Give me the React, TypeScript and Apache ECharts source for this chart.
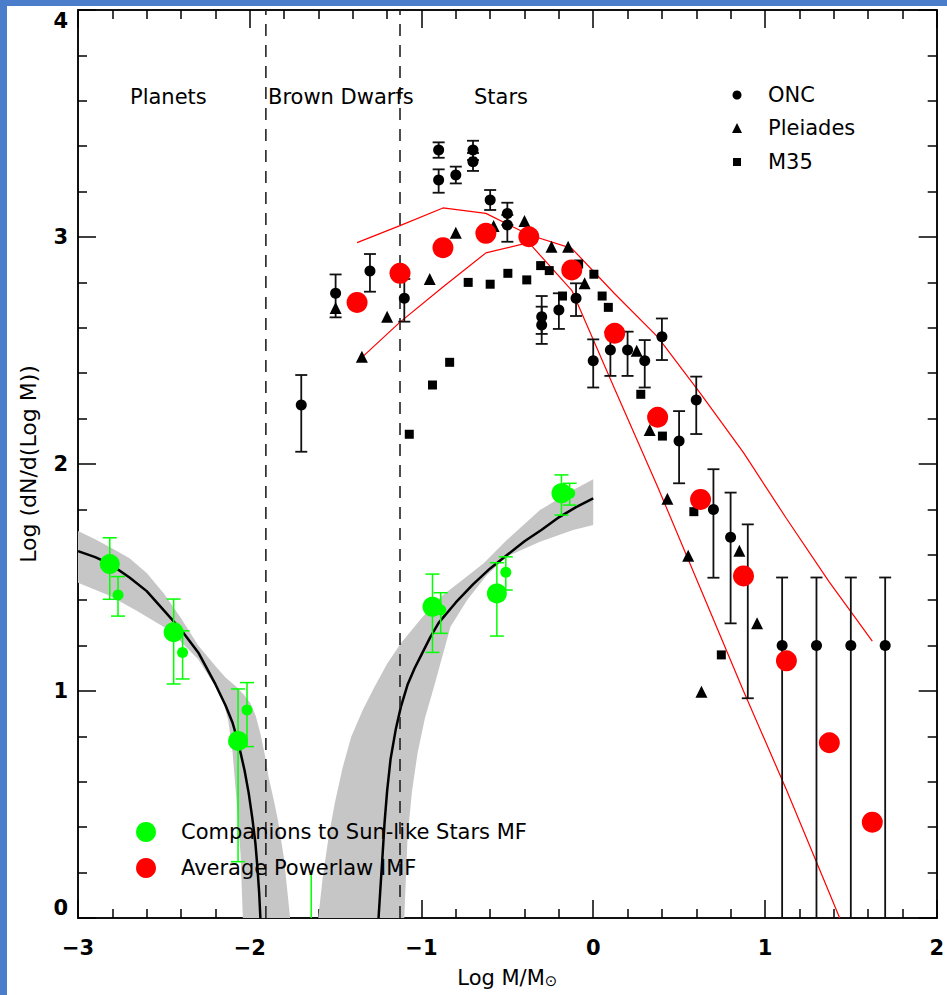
import React, { useEffect, useRef } from "react";
import * as echarts from "echarts";

// ---------- data ----------
// ONC (circles with error bars)
const oncX = [-1.7, -1.5, -1.3, -1.1, -0.9, -0.9, -0.8, -0.7, -0.7, -0.6, -0.5, -0.5, -0.3, -0.3, -0.2, -0.1, 0.0, 0.1, 0.2, 0.3, 0.4, 0.5, 0.6, 0.7, 0.8, 0.9, 1.1, 1.3, 1.5, 1.7];
const oncY = [2.26, 2.752, 2.85, 2.73, 3.383, 3.251, 3.273, 3.383, 3.332, 3.163, 3.104, 3.053, 2.649, 2.612, 2.678, 2.73, 2.455, 2.502, 2.502, 2.455, 2.561, 2.101, 2.282, 1.8, 1.677, 1.507, 1.2, 1.2, 1.2, 1.2];
const oncHi = [2.392, 2.835, 2.925, 2.815, 3.417, 3.298, 3.31, 3.424, 3.37, 3.207, 3.151, 3.097, 2.74, 2.693, 2.752, 2.796, 2.549, 2.581, 2.583, 2.546, 2.641, 2.233, 2.385, 1.977, 1.874, 1.734, 1.5, 1.5, 1.5, 1.5];
const oncLo = [2.054, 2.646, 2.759, 2.627, 3.349, 3.195, 3.236, 3.339, 3.291, 3.119, 3.053, 2.979, 2.573, 2.529, 2.595, 2.652, 2.337, 2.388, 2.388, 2.337, 2.458, 1.915, 2.132, 1.499, 1.298, 0.968, 0, 0, 0, 0];

// Pleiades (triangles)
const plX = [-1.5, -1.347, -1.2, -0.952, -0.8, -0.58, -0.4, -0.243, -0.146, -0.05, 0.253, 0.329, 0.432, 0.553, 0.63, 0.851, 0.954];
const plY = [2.687, 2.473, 2.649, 2.815, 3.019, 3.048, 3.07, 2.957, 2.957, 2.796, 2.499, 2.15, 1.847, 1.596, 0.997, 1.618, 1.298];

// M35 (squares)
const m35X = [-1.071, -0.936, -0.836, -0.728, -0.6, -0.497, -0.387, -0.306, -0.256, -0.179, -0.085, 0.004, 0.052, 0.088, 0.277, 0.403, 0.586, 0.746];
const m35Y = [2.131, 2.348, 2.448, 2.8, 2.792, 2.84, 2.811, 2.874, 2.852, 2.74, 2.881, 2.836, 2.74, 2.69, 2.307, 2.123, 1.79, 1.159];

// Average powerlaw IMF (red circles) and its envelope lines
const imfX = [-1.375, -1.125, -0.875, -0.625, -0.375, -0.125, 0.125, 0.375, 0.625, 0.875, 1.125, 1.375, 1.625];
const imfY = [2.712, 2.84, 2.953, 3.016, 3.001, 2.855, 2.576, 2.206, 1.844, 1.507, 1.133, 0.772, 0.422];
const imfUpperX = [-1.375, -1.125, -0.875, -0.625, -0.375, -0.125, 0.125, 0.375, 0.625, 0.875, 1.125, 1.375, 1.625];
const imfUpperY = [2.975, 3.05, 3.128, 3.104, 3.01, 2.95, 2.75, 2.56, 2.31, 2.05, 1.76, 1.48, 1.22];
const imfLowerX = [-1.375, -1.125, -0.875, -0.625, -0.375, -0.125, 0.125, 0.375, 0.625, 0.875, 1.125, 1.375, 1.435];
const imfLowerY = [2.45, 2.625, 2.78, 2.93, 2.975, 2.765, 2.33, 1.9, 1.45, 1.0, 0.565, 0.11, 0];

// Companions to Sun-like stars MF (green)
const compBigX = [-2.815, -2.443, -2.068, -0.936, -0.561, -0.185];
const compBigY = [1.559, 1.259, 0.78, 1.371, 1.43, 1.871];
const compBigHi = [1.675, 1.405, 1.009, 1.515, 1.565, 1.952];
const compBigLo = [1.404, 1.031, 0.248, 1.17, 1.242, 1.775];
const compSmallX = [-2.767, -2.391, -2.016, -0.888, -0.509, -0.137];
const compSmallY = [1.423, 1.17, 0.916, 1.357, 1.523, 1.871];
const compSmallHi = [1.504, 1.265, 1.037, 1.433, 1.591, 1.915];
const compSmallLo = [1.33, 1.053, 0.755, 1.254, 1.445, 1.819];
const compOffX = [-1.642];
const compOffHi = [0.211];
const compOffLo = [0];

// Fitted companion MF curves
const leftFitX = [-3.0, -2.9, -2.815, -2.7, -2.6, -2.5, -2.4, -2.3, -2.2, -2.14, -2.1, -2.066, -2.03, -2.006, -1.985, -1.967, -1.955, -1.945, -1.938];
const leftFitY = [1.616, 1.59, 1.56, 1.5, 1.44, 1.355, 1.27, 1.17, 1.03, 0.935, 0.86, 0.77, 0.65, 0.55, 0.44, 0.33, 0.22, 0.11, 0];
const rightFitX = [-1.25, -1.24, -1.228, -1.215, -1.2, -1.18, -1.15, -1.12, -1.08, -1.04, -1.0, -0.95, -0.9, -0.8, -0.7, -0.6, -0.5, -0.4, -0.3, -0.2, -0.1, 0.0];
const rightFitY = [0, 0.12, 0.26, 0.42, 0.56, 0.7, 0.83, 0.93, 1.03, 1.1, 1.16, 1.235, 1.3, 1.39, 1.47, 1.54, 1.6, 1.66, 1.71, 1.765, 1.81, 1.849];

// Uncertainty bands (upper and lower edges)
const leftBandUpX = [-3.0, -2.9, -2.8, -2.7, -2.6, -2.5, -2.4, -2.3, -2.2, -2.141, -2.08, -2.03, -1.996, -1.965, -1.938, -1.91, -1.89, -1.86, -1.836, -1.8, -1.765];
const leftBandUpY = [1.705, 1.668, 1.628, 1.585, 1.52, 1.43, 1.32, 1.2, 1.11, 1.06, 1.02, 0.98, 0.946, 0.89, 0.813, 0.71, 0.62, 0.52, 0.432, 0.26, 0];
const leftBandLoX = [-3.0, -2.815, -2.661, -2.468, -2.3, -2.2, -2.15, -2.125, -2.1, -2.075, -2.054, -2.04];
const leftBandLoY = [1.477, 1.42, 1.355, 1.268, 1.14, 1.02, 0.94, 0.87, 0.73, 0.5, 0.286, 0];
const rightBandUpX = [-1.601, -1.575, -1.54, -1.505, -1.46, -1.409, -1.34, -1.273, -1.2, -1.12, -1.0, -0.888, -0.76, -0.638, -0.503, -0.31, -0.117, 0.0];
const rightBandUpY = [0, 0.18, 0.36, 0.505, 0.66, 0.799, 0.92, 1.019, 1.12, 1.21, 1.32, 1.415, 1.49, 1.563, 1.665, 1.797, 1.885, 1.933];
const rightBandLoX = [-1.1, -1.081, -1.055, -1.023, -0.98, -0.927, -0.831, -0.734, -0.62, -0.503, -0.31, -0.117, 0.0];
const rightBandLoY = [0, 0.358, 0.56, 0.726, 0.88, 1.019, 1.283, 1.401, 1.51, 1.592, 1.658, 1.709, 1.731];

// Mass-range boundaries
const planetLimit = -1.906;
const brownDwarfLimit = -1.125;

// Axes
const xMin = -3, xMax = 2, xStep = 1;
const yMin = 0, yMax = 4, yStep = 1;

// ---------- helpers ----------
const FONT = "DejaVu Sans";
const zip = (a: number[], b: number[]) => a.map((v, i) => [v, b[i]]);
const zip3 = (a: number[], b: number[], c: number[]) => a.map((v, i) => [v, b[i], c[i]]);

function errRender(color: string, capHalf: number, width: number, caps: boolean) {
  return (_params: any, api: any) => {
    const x = api.value(0), lo = api.value(1), hi = api.value(2);
    const a = api.coord([x, hi]);
    const b = api.coord([x, lo]);
    const st = { stroke: color, lineWidth: width };
    const ch: any[] = [{ type: "line", shape: { x1: a[0], y1: a[1], x2: b[0], y2: b[1] }, style: st }];
    if (caps) {
      ch.push({ type: "line", shape: { x1: a[0] - capHalf, y1: a[1], x2: a[0] + capHalf, y2: a[1] }, style: st });
      if (lo > 0) ch.push({ type: "line", shape: { x1: b[0] - capHalf, y1: b[1], x2: b[0] + capHalf, y2: b[1] }, style: st });
    }
    return { type: "group", children: ch };
  };
}

function bandRender(ux: number[], uy: number[], lx: number[], ly: number[]) {
  return (params: any, api: any) => {
    if (params.dataIndex !== 0) return { type: "group", children: [] };
    const pts: number[][] = [];
    for (let i = 0; i < ux.length; i++) pts.push(api.coord([ux[i], uy[i]]));
    for (let i = lx.length - 1; i >= 0; i--) pts.push(api.coord([lx[i], ly[i]]));
    return { type: "polygon", shape: { points: pts }, style: { fill: "#c6c6c6" } };
  };
}

const minus = (v: number) => (v < 0 ? "\u2212" + Math.abs(v) : String(v));

const tickStyle = { color: "#000", width: 1.5 };
const axisCommon = {
  type: "value" as const,
  axisLine: { show: true, onZero: false, lineStyle: { color: "#111", width: 2 } },
  axisTick: { show: true, inside: true, length: 18, lineStyle: tickStyle },
  minorTick: { show: true, splitNumber: 5, length: 9, lineStyle: tickStyle },
  splitLine: { show: false },
  minorSplitLine: { show: false },
};

// inner chart offset relative to the page (blue frame)
const OX = 7, OY = 6;

const txt = (text: string, left: number, top: number) => ({
  type: "text", z: 100, left: left - OX, top: top - OY,
  style: { text, font: `21px "${FONT}"`, fill: "#000" },
});

export default function App() {
  const ref = useRef<HTMLDivElement>(null);
  useEffect(() => {
    document.body.style.margin = "0";
    const chart = echarts.init(ref.current!, null, { renderer: "svg" });
    const sc = (color: string) => ({ color, opacity: 1 });
    const option: any = {
      animation: false,
      backgroundColor: "#ffffff",
      grid: { left: 78 - OX, top: 10 - OY, width: 865, height: 908 },
      xAxis: [
        {
          ...axisCommon,
          min: xMin, max: xMax, interval: xStep, position: "bottom",
          axisLabel: { show: true, margin: 19, fontFamily: FONT, fontSize: 21, fontWeight: "bold", color: "#000", formatter: minus },
          name: "Log M/M{s|\u2299}",
          nameLocation: "middle",
          nameGap: 49,
          nameTextStyle: { fontFamily: FONT, fontSize: 21, color: "#000", rich: { s: { fontFamily: FONT, fontSize: 15, color: "#000", verticalAlign: "bottom", padding: [6, 0, 0, 0] } } },
        },
        { ...axisCommon, min: xMin, max: xMax, interval: xStep, position: "top", axisLabel: { show: false } },
      ],
      yAxis: [
        {
          ...axisCommon,
          min: yMin, max: yMax, interval: yStep, position: "left",
          axisLabel: { show: true, margin: 10, fontFamily: FONT, fontSize: 21, fontWeight: "bold", color: "#000", verticalAlignMinLabel: "bottom", verticalAlignMaxLabel: "top" },
          name: "Log (dN/d(Log M))",
          nameLocation: "middle",
          nameGap: 39,
          nameTextStyle: { fontFamily: FONT, fontSize: 22, color: "#000" },
        },
        { ...axisCommon, min: yMin, max: yMax, interval: yStep, position: "right", axisLabel: { show: false } },
      ],
      series: [
        { name: "leftBand", type: "custom", silent: true, z: 1, renderItem: bandRender(leftBandUpX, leftBandUpY, leftBandLoX, leftBandLoY), data: zip(leftBandUpX, leftBandUpY), encode: { x: 0, y: 1 } },
        { name: "rightBand", type: "custom", silent: true, z: 1, renderItem: bandRender(rightBandUpX, rightBandUpY, rightBandLoX, rightBandLoY), data: zip(rightBandUpX, rightBandUpY), encode: { x: 0, y: 1 } },
        { name: "leftFit", type: "line", z: 2, silent: true, showSymbol: false, lineStyle: { color: "#000", width: 2.5, join: "round" }, data: zip(leftFitX, leftFitY) },
        { name: "rightFit", type: "line", z: 2, silent: true, showSymbol: false, lineStyle: { color: "#000", width: 2.5, join: "round" }, data: zip(rightFitX, rightFitY) },
        { name: "planetLimit", type: "line", z: 3, silent: true, showSymbol: false, lineStyle: { color: "#222", width: 1.6, type: [12, 9] }, data: [[planetLimit, yMin], [planetLimit, yMax]] },
        { name: "bdLimit", type: "line", z: 3, silent: true, showSymbol: false, lineStyle: { color: "#222", width: 1.6, type: [12, 9] }, data: [[brownDwarfLimit, yMin], [brownDwarfLimit, yMax]] },
        { name: "imfUpper", type: "line", z: 3, silent: true, showSymbol: false, lineStyle: { color: "#ff0000", width: 1.2 }, data: zip(imfUpperX, imfUpperY) },
        { name: "imfLower", type: "line", z: 3, silent: true, showSymbol: false, lineStyle: { color: "#ff0000", width: 1.2 }, data: zip(imfLowerX, imfLowerY) },
        { name: "oncErr", type: "custom", z: 4, silent: true, renderItem: errRender("#111", 6, 1.8, true), data: zip3(oncX, oncLo, oncHi), encode: { x: 0, y: [1, 2] } },
        { name: "compBigErr", type: "custom", z: 4, silent: true, renderItem: errRender("#00ff00", 7, 1.5, true), data: zip3(compBigX, compBigLo, compBigHi), encode: { x: 0, y: [1, 2] } },
        { name: "compSmallErr", type: "custom", z: 4, silent: true, renderItem: errRender("#00ff00", 7, 1.5, true), data: zip3(compSmallX, compSmallLo, compSmallHi), encode: { x: 0, y: [1, 2] } },
        { name: "compOffErr", type: "custom", z: 4, silent: true, renderItem: errRender("#00ff00", 7, 1.5, false), data: zip3(compOffX, compOffLo, compOffHi), encode: { x: 0, y: [1, 2] } },
        { name: "ONC", type: "scatter", z: 5, symbol: "circle", symbolSize: 11, itemStyle: sc("#000"), data: zip(oncX, oncY) },
        { name: "Pleiades", type: "scatter", z: 5, symbol: "triangle", symbolSize: 12, itemStyle: sc("#000"), data: zip(plX, plY) },
        { name: "M35", type: "scatter", z: 5, symbol: "rect", symbolSize: 9, itemStyle: sc("#000"), data: zip(m35X, m35Y) },
        { name: "Companions big", type: "scatter", z: 6, symbol: "circle", symbolSize: 20, itemStyle: sc("#00ff00"), data: zip(compBigX, compBigY) },
        { name: "Companions small", type: "scatter", z: 6, symbol: "circle", symbolSize: 11, itemStyle: sc("#00ff00"), data: zip(compSmallX, compSmallY) },
        { name: "Average Powerlaw IMF", type: "scatter", z: 7, symbol: "circle", symbolSize: 21, itemStyle: sc("#ff0000"), data: zip(imfX, imfY) },
      ],
      graphic: [
        // mass range labels
        txt("Planets", 130, 86),
        txt("Brown Dwarfs", 268, 86),
        txt("Stars", 474, 86),
        // top-right legend
        { type: "circle", z: 100, shape: { cx: 737 - OX, cy: 95 - OY, r: 4.5 }, style: { fill: "#000" } },
        { type: "polygon", z: 100, shape: { points: [[732 - OX, 133 - OY], [742 - OX, 133 - OY], [737 - OX, 123 - OY]] }, style: { fill: "#000" } },
        { type: "rect", z: 100, shape: { x: 733 - OX, y: 158 - OY, width: 8, height: 8 }, style: { fill: "#000" } },
        txt("ONC", 768, 84),
        txt("Pleiades", 768, 117),
        txt("M35", 768, 151),
        // bottom-left legend
        { type: "circle", z: 100, shape: { cx: 146 - OX, cy: 832 - OY, r: 10 }, style: { fill: "#00ff00" } },
        { type: "circle", z: 100, shape: { cx: 146 - OX, cy: 868 - OY, r: 10 }, style: { fill: "#ff0000" } },
        txt("Companions to Sun-like Stars MF", 181, 821),
        txt("Average Powerlaw IMF", 181, 857),
      ],
    };
    chart.setOption(option);
    return () => chart.dispose();
  }, []);
  return (
    <div style={{ position: "absolute", left: 0, top: 0, width: 947, height: 995, background: "#4a7dca", overflow: "hidden" }}>
      <div ref={ref} style={{ position: "absolute", left: OX, top: OY, width: 947 - OX, height: 995 - OY, background: "#ffffff" }} />
    </div>
  );
}
